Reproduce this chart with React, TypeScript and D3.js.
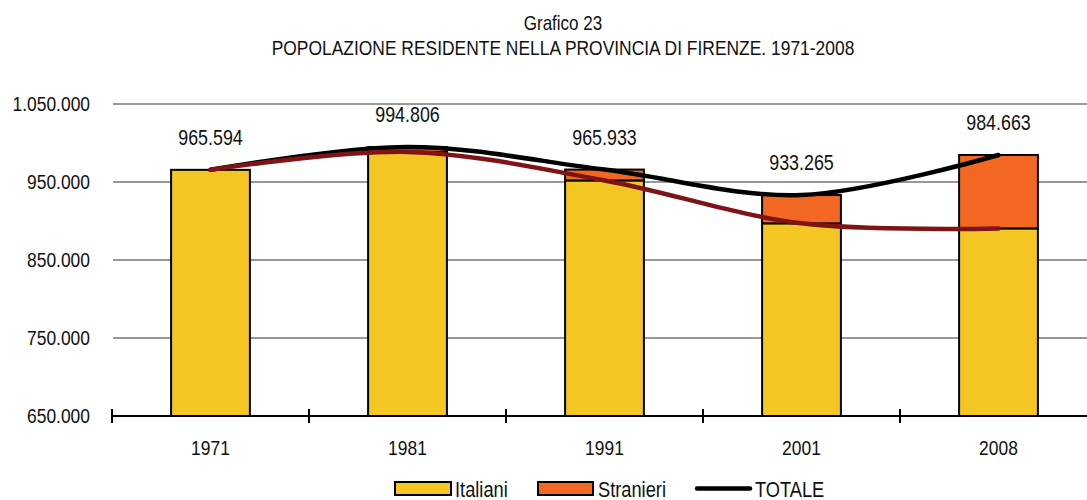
import React from "react";
import * as d3 from "d3";

const years = ["1971", "1981", "1991", "2001", "2008"];
const italiani = [965594, 988600, 952000, 897000, 890500];
const totale = [965594, 994806, 965933, 933265, 984663];
const totaleLabels = ["965.594", "994.806", "965.933", "933.265", "984.663"];
const yTicks = [650000, 750000, 850000, 950000, 1050000];
const yTickLabels = ["650.000", "750.000", "850.000", "950.000", "1.050.000"];

const W = 1087;
const H = 500;
const FONT = "'Liberation Sans', Arial, sans-serif";
const YELLOW = "#F4C624";
const ORANGE = "#F26722";
const DARKRED = "#7E1416";

function T({ x, y, anchor = "middle", size = 21, sx = 0.83, children }: any) {
  return (
    <text
      transform={`translate(${x},${y}) scale(${sx},1)`}
      textAnchor={anchor}
      fontFamily={FONT}
      fontSize={size}
      fill="#111"
    >
      {children}
    </text>
  );
}

export default function App() {
  const x = d3.scaleBand<string>().domain(years).range([112, 1097]).padding(0);
  const y = d3.scaleLinear().domain([650000, 1050000]).range([416, 104]);
  const bw = x.bandwidth() * 0.4;
  const cx = (yr: string) => (x(yr) as number) + x.bandwidth() / 2;

  const line = d3
    .line<number>()
    .x((_, i) => cx(years[i]))
    .y((v) => y(v))
    .curve(d3.curveCatmullRom.alpha(0));

  const tickXs = years.map((yr) => x(yr) as number).concat([1097]);

  return (
    <svg width={W} height={H} style={{ position: "absolute", left: 0, top: 0, background: "#fff" }}>
      <rect width={W} height={H} fill="#fff" />
      <T x={563} y={30} size={20.5}>Grafico 23</T>
      <T x={563} y={55} size={21}>POPOLAZIONE RESIDENTE NELLA PROVINCIA DI FIRENZE. 1971-2008</T>

      {yTicks.map((t, i) => (
        <g key={t}>
          {i > 0 && <line x1={113} x2={W} y1={y(t)} y2={y(t)} stroke="#333" strokeWidth={1} />}
          <T x={90} y={y(t) + 7} anchor="end">{yTickLabels[i]}</T>
        </g>
      ))}

      {years.map((yr, i) => (
        <g key={yr}>
          <rect
            x={cx(yr) - bw / 2}
            y={y(italiani[i])}
            width={bw}
            height={y(650000) - y(italiani[i])}
            fill={YELLOW}
            stroke="#000"
            strokeWidth={2}
          />
          {totale[i] > italiani[i] && (
            <rect
              x={cx(yr) - bw / 2}
              y={y(totale[i])}
              width={bw}
              height={y(italiani[i]) - y(totale[i])}
              fill={ORANGE}
              stroke="#000"
              strokeWidth={2}
            />
          )}
        </g>
      ))}

      <line x1={112} x2={W} y1={416} y2={416} stroke="#000" strokeWidth={2} />
      {tickXs.map((tx, i) => (
        <line key={i} x1={tx} x2={tx} y1={409} y2={423} stroke="#000" strokeWidth={2} />
      ))}

      <path d={line(totale) || ""} fill="none" stroke="#000" strokeWidth={4.5} strokeLinecap="round" />
      <path d={line(italiani) || ""} fill="none" stroke={DARKRED} strokeWidth={4.5} strokeLinecap="round" />

      {years.map((yr, i) => (
        <g key={"l" + yr}>
          <T x={cx(yr)} y={y(totale[i]) - 25} size={21.5}>{totaleLabels[i]}</T>
          <T x={cx(yr)} y={455}>{yr}</T>
        </g>
      ))}

      <rect x={395} y={482} width={56} height={13} fill={YELLOW} stroke="#000" strokeWidth={2} />
      <T x={455} y={497} anchor="start" size={22}>Italiani</T>
      <rect x={538} y={482} width={55} height={13} fill={ORANGE} stroke="#000" strokeWidth={2} />
      <T x={598} y={497} anchor="start" size={22}>Stranieri</T>
      <line x1={697} x2={750} y1={488.5} y2={488.5} stroke="#000" strokeWidth={4.5} strokeLinecap="round" />
      <T x={755} y={497} anchor="start" size={22}>TOTALE</T>
    </svg>
  );
}
